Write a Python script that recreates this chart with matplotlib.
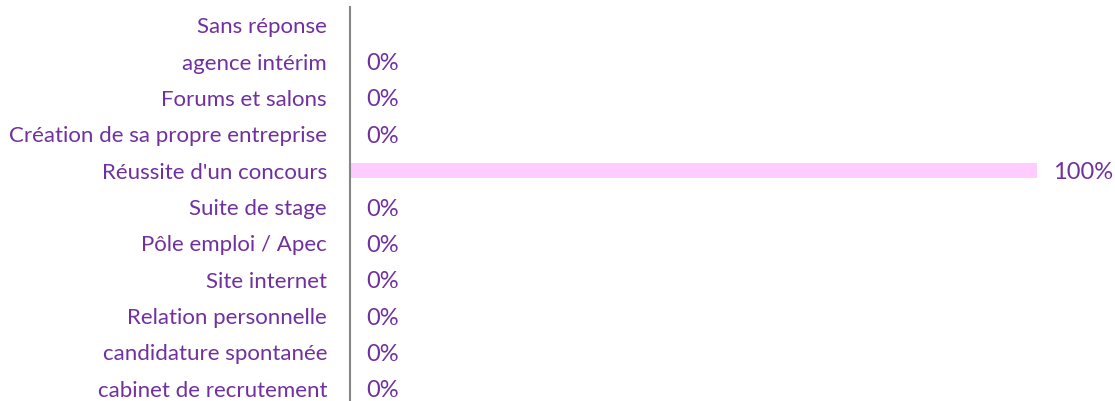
import matplotlib
matplotlib.use("Agg")
import matplotlib.pyplot as plt
import numpy as np

categories = ["Sans réponse", "agence intérim", "Forums et salons",
              "Création de sa propre entreprise", "Réussite d'un concours",
              "Suite de stage", "Pôle emploi / Apec", "Site internet",
              "Relation personnelle", "candidature spontanée",
              "cabinet de recrutement"]
values = [None, 0.0, 0.0, 0.0, 1.0, 0.0, 0.0, 0.0, 0.0, 0.0, 0.0]
value_labels = ["", "0%", "0%", "0%", "100%", "0%", "0%", "0%", "0%", "0%", "0%"]

TEXT = "#7030A0"
BAR = "#FFCCFF"
AXIS = "#868686"

plt.rcParams['font.family'] = ['Lato', 'DejaVu Sans']

W, H = 1115, 401
fig = plt.figure(figsize=(W / 100, H / 100), dpi=100)
left = 350 / W
right = 1037 / W
top = 7 / H
bottom = 407 / H
ax = fig.add_axes([left, 1 - bottom, right - left, bottom - top])

n = len(categories)
y = np.arange(n)
vals = [0 if v is None else v for v in values]
ax.barh(y, vals, height=0.42, color=BAR, zorder=2)
ax.set_xlim(0, 1)
ax.set_ylim(n - 0.5, -0.5)

ax.set_yticks(y)
ax.set_yticklabels(categories, fontsize=16, color=TEXT)
ax.tick_params(axis='y', length=0, pad=16.5)
ax.set_xticks([])
for s in ["top", "right", "bottom"]:
    ax.spines[s].set_visible(False)
ax.spines["left"].set_color(AXIS)
ax.spines["left"].set_linewidth(1.5)

for yi, v, lab in zip(y, vals, value_labels):
    if lab:
        ax.annotate(lab, xy=(v, yi), xytext=(16, -2), textcoords="offset pixels",
                    ha="left", va="center", fontsize=17, color=TEXT,
                    annotation_clip=False)

fig.savefig("out.png", dpi=100)
